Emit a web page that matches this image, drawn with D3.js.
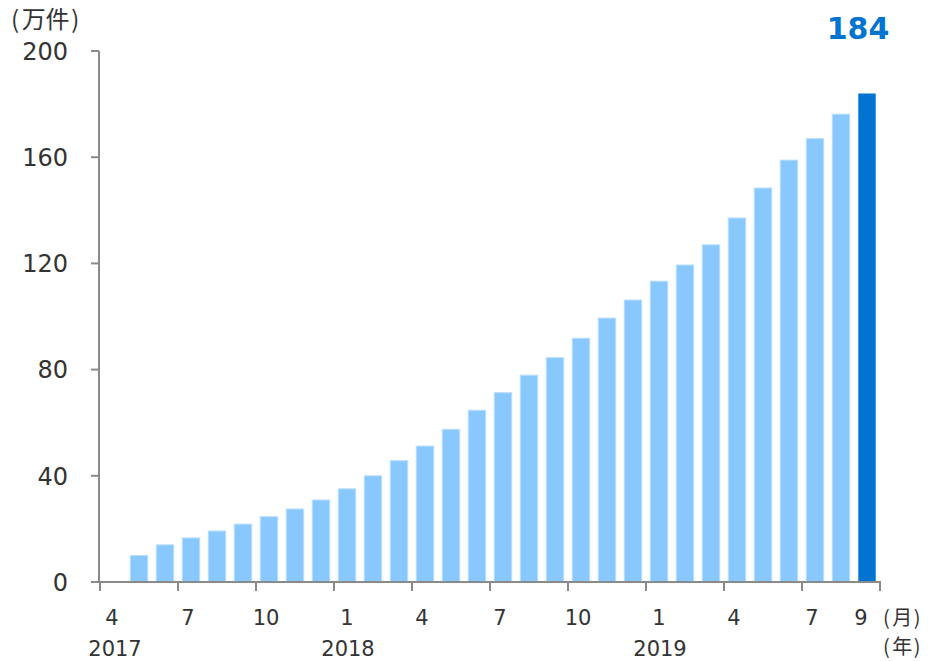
<!DOCTYPE html>
<html>
<head>
<meta charset="utf-8">
<script src="https://cdn.jsdelivr.net/npm/d3@7"></script>
<style>
  html, body { margin: 0; padding: 0; background: #fff; }
  svg { display: block; }
  text { font-family: "DejaVu Sans", Verdana, sans-serif; fill: #333; }
  .cjk { font-family: "Noto Sans CJK JP", "Noto Sans CJK SC", sans-serif; }
</style>
</head>
<body>
<svg id="chart" width="933" height="661"></svg>
<script>
// Monthly categories, April 2017 to September 2019
const years = [2017, 2018, 2019];
const months = [];
for (const yr of years) {
  for (let m = 1; m <= 12; m++) {
    if ((yr === 2017 && m < 4) || (yr === 2019 && m > 9)) continue;
    months.push(yr + "-" + m);
  }
}

// Cumulative count (万件); no value for April 2017
const values = [null, 10, 14, 16.6, 19.2, 21.8, 24.6, 27.5, 30.9, 35.1, 40,
  45.7, 51.2, 57.5, 64.7, 71.3, 77.9, 84.5, 91.8, 99.4, 106.2,
  113.3, 119.4, 127, 137.1, 148.4, 158.9, 167, 176.2, 184];

const yTicks = [0, 40, 80, 120, 160, 200];
// Month labels shown on the axis, and year labels underneath
const monthLabels = ["2017-4", "2017-7", "2017-10", "2018-1", "2018-4", "2018-7",
  "2018-10", "2019-1", "2019-4", "2019-7", "2019-9"];
const yearLabels = [["2017-4", "2017"], ["2018-1", "2018"], ["2019-1", "2019"]];
// Tick marks sit on the left edge of these months, plus the right end of the axis
const tickMonths = ["2017-4", "2017-7", "2017-10", "2018-1", "2018-4", "2018-7",
  "2018-10", "2019-1", "2019-4", "2019-7"];

const data = months.map((m, i) => ({ month: m, value: values[i] }));

const svg = d3.select("#chart");
const plotLeft = 100, plotRight = 880, plotTop = 51, plotBottom = 582;

const x = d3.scaleBand().domain(months).range([plotLeft, plotRight])
  .paddingInner(0.33).paddingOuter(0.165);
const y = d3.scaleLinear().domain([0, 200]).range([plotBottom, plotTop]);

const axisColor = "#8a8a8a";
const lightBlue = "#89c8fd";
const darkBlue = "#0074d0";

// Bars
const last = data[data.length - 1];
svg.append("g").selectAll("rect")
  .data(data.filter(d => d.value != null))
  .join("rect")
  .attr("x", d => x(d.month))
  .attr("width", x.bandwidth())
  .attr("y", d => y(d.value))
  .attr("height", d => y(0) - y(d.value))
  .attr("fill", d => d === last ? darkBlue : lightBlue)
  .attr("stroke", d => d === last ? "none" : "#b9defe")
  .attr("stroke-width", 1);

// Y axis
const yAxis = svg.append("g");
yAxis.append("line")
  .attr("x1", plotLeft - 1).attr("x2", plotLeft - 1)
  .attr("y1", y(200)).attr("y2", y(0))
  .attr("stroke", axisColor).attr("stroke-width", 2);
yAxis.selectAll("line.tick").data(yTicks).join("line")
  .attr("class", "tick")
  .attr("x1", plotLeft - 9).attr("x2", plotLeft - 1)
  .attr("y1", d => y(d)).attr("y2", d => y(d))
  .attr("stroke", axisColor).attr("stroke-width", 2);
yAxis.selectAll("text").data(yTicks).join("text")
  .attr("x", 68).attr("y", d => y(d))
  .attr("dy", "0.37em")
  .attr("text-anchor", "end")
  .attr("font-size", 24)
  .text(d => d);

// X axis
const xAxis = svg.append("g");
xAxis.append("line")
  .attr("x1", plotLeft - 9).attr("x2", plotRight + 1)
  .attr("y1", plotBottom).attr("y2", plotBottom)
  .attr("stroke", axisColor).attr("stroke-width", 2);
const tickXs = tickMonths.map(m => x(m) - x.step() * x.paddingInner() / 2).concat([plotRight]);
xAxis.selectAll("line.tick").data(tickXs).join("line")
  .attr("class", "tick")
  .attr("x1", d => d).attr("x2", d => d)
  .attr("y1", plotBottom).attr("y2", plotBottom + 9)
  .attr("stroke", axisColor).attr("stroke-width", 2);

// Small per-label nudges so the digits sit where the month reads centred
function monthNudge(key) {
  if (key === "2019-9") return -6;
  if (key === "2017-4") return -1;
  if (key.endsWith("-1")) return 0;
  return -3;
}
xAxis.selectAll("text.month").data(monthLabels).join("text")
  .attr("class", "month")
  .attr("x", d => x(d) + x.bandwidth() / 2 + monthNudge(d))
  .attr("y", 625)
  .attr("text-anchor", "middle")
  .attr("font-size", 21)
  .text(d => d.split("-")[1]);
xAxis.selectAll("text.year").data(yearLabels).join("text")
  .attr("class", "year")
  .attr("x", d => x(d[0]) + x.bandwidth() / 2 + (d[1] === "2017" ? 2 : 1))
  .attr("y", 656)
  .attr("text-anchor", "middle")
  .attr("font-size", 21)
  .text(d => d[1]);

// Unit labels
function unitLabel(px, py, size, word) {
  const t = svg.append("text").attr("class", "cjk")
    .attr("x", px).attr("y", py).attr("font-size", size);
  t.append("tspan").text("(");
  t.append("tspan").attr("dx", 2.5).text(word);
  t.append("tspan").attr("dx", 1.5).text(")");
}
unitLabel(11, 28, 24, "万件");
unitLabel(883, 625, 20, "月");
unitLabel(883, 654, 20, "年");

// Latest value callout
svg.append("text")
  .attr("x", x(last.month) + x.bandwidth() / 2 - 9)
  .attr("y", 39)
  .attr("text-anchor", "middle")
  .attr("font-size", 30)
  .attr("font-weight", "bold")
  .style("fill", darkBlue)
  .text(last.value);
</script>
</body>
</html>
